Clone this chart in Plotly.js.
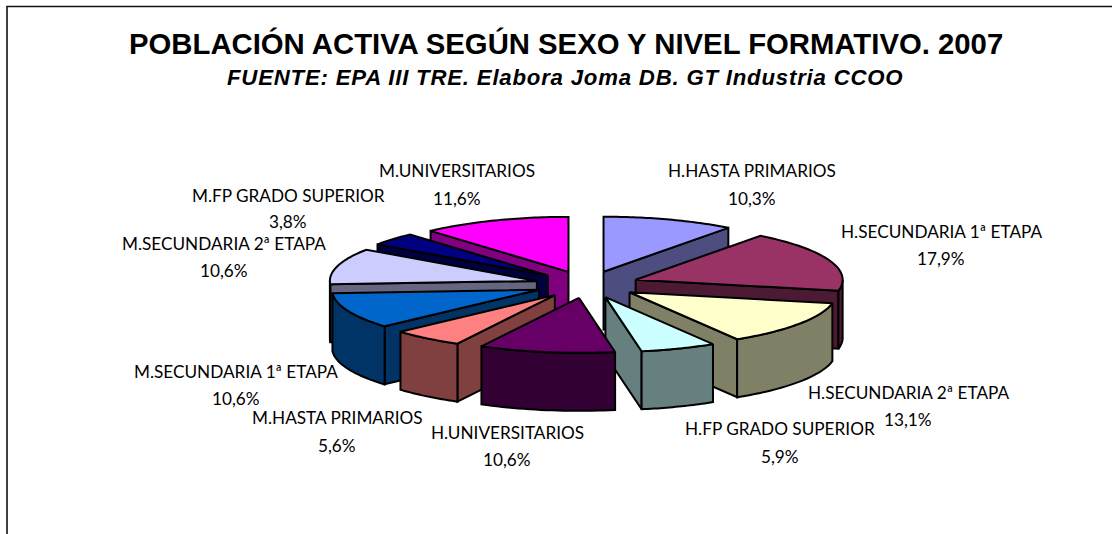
<!DOCTYPE html>
<html><head><meta charset="utf-8">
<script src="https://cdn.plot.ly/plotly-3.0.1.min.js"></script>
<style>html,body{margin:0;padding:0;background:#fff;overflow:hidden}
.annotation[data-index="21"] text{letter-spacing:0.8px}</style>
</head><body><div id="chart" style="width:1112px;height:534px"></div>
<script>
const categories = ["H.HASTA PRIMARIOS","H.SECUNDARIA 1ª ETAPA","H.SECUNDARIA 2ª ETAPA","H.FP GRADO SUPERIOR","H.UNIVERSITARIOS","M.HASTA PRIMARIOS","M.SECUNDARIA 1ª ETAPA","M.SECUNDARIA 2ª ETAPA","M.FP GRADO SUPERIOR","M.UNIVERSITARIOS"];
const shares = [10.3,17.9,13.1,5.9,10.6,5.6,10.6,10.6,3.8,11.6];
const shareLabels = ["10,3%","17,9%","13,1%","5,9%","10,6%","5,6%","10,6%","10,6%","3,8%","11,6%"];
const topColors = ["#9999FF","#993366","#FFFFCC","#CCFFFF","#660066","#FF8080","#0066CC","#CCCCFF","#000080","#FF00FF"];
const sideColors = ["#4D4D80","#4D1A33","#808066","#668080","#330033","#804040","#003366","#666680","#000040","#800080"];
const labelX = [752,941,908,780,507,337,236,224,288,457];
const labelNameY = [170,231,392,428,432,417,371,243,195,170];
const labelValueY = [198,258,419,456,459,445,398,270,221,198];
const paintOrder = [0,9,8,1,7,2,6,3,5,4];

// 3D pie projection
const CX=587, CY=284.5, RX=207, RY=55, DEPTH=58, EXPX=52, EXPY=13.5;
const rad=d=>d*Math.PI/180;
const total=shares.reduce((a,b)=>a+b,0);
let cum=0;
const slices=shares.map(v=>{const a=cum/total*360;cum+=v;return {a0:a,a1:cum/total*360};});

function poly(xs,ys,fill){
  return {type:'scatter',mode:'lines',x:xs,y:ys,fill:'toself',fillcolor:fill,
    line:{color:'#000',width:2,simplify:false},hoverinfo:'skip',showlegend:false};
}
const traces=[];
paintOrder.forEach(i=>{
  const s=slices[i], mid=(s.a0+s.a1)/2;
  const ax=CX+EXPX*Math.sin(rad(mid)), ay=CY-EXPY*Math.cos(rad(mid));
  const P=t=>[ax+RX*Math.sin(rad(t)), ay-RY*Math.cos(rad(t))];
  const cut=t=>{const p=P(t);traces.push(poly([ax,p[0],p[0],ax,ax],[ay,p[1],p[1]+DEPTH,ay+DEPTH,ay],sideColors[i]));};
  if(s.a1<180) cut(s.a1);
  if(s.a0>=180) cut(s.a0);
  const w0=Math.max(s.a0,90), w1=Math.min(s.a1,270);
  if(w1>w0){
    const xs=[],ys=[],bx=[],by=[];
    for(let t=w0;t<=w1+1e-6;t+=(w1-w0)/24){const p=P(t);xs.push(p[0]);ys.push(p[1]);bx.unshift(p[0]);by.unshift(p[1]+DEPTH);}
    traces.push(poly(xs.concat(bx,[xs[0]]),ys.concat(by,[ys[0]]),sideColors[i]));
  }
  const xs=[ax],ys=[ay];
  for(let k=0;k<=40;k++){const p=P(s.a0+(s.a1-s.a0)*k/40);xs.push(p[0]);ys.push(p[1]);}
  xs.push(ax);ys.push(ay);
  traces.push(poly(xs,ys,topColors[i]));
});

const lf={family:'Lato, Carlito, sans-serif',size:17.2,color:'#000'};
const ann=[];
categories.forEach((c,i)=>{
  ann.push({x:labelX[i],y:labelNameY[i],text:c,showarrow:false,font:lf,xanchor:'center',yanchor:'middle'});
  ann.push({x:labelX[i],y:labelValueY[i],text:shareLabels[i],showarrow:false,font:lf,xanchor:'center',yanchor:'middle'});
});
ann.push({x:566,y:43.5,text:'<b>POBLACIÓN ACTIVA SEGÚN SEXO Y NIVEL FORMATIVO. 2007</b>',showarrow:false,xanchor:'center',yanchor:'middle',
  font:{family:'Liberation Sans, Arial, sans-serif',size:29.3,color:'#000'}});
ann.push({x:564.5,y:77.5,text:'<b><i>FUENTE: EPA III TRE. Elabora Joma DB. GT Industria CCOO</i></b>',showarrow:false,xanchor:'center',yanchor:'middle',
  font:{family:'Liberation Sans, Arial, sans-serif',size:22.2,color:'#000'}});

const layout={width:1112,height:534,margin:{l:0,r:0,t:0,b:0},paper_bgcolor:'#fff',plot_bgcolor:'#fff',showlegend:false,
  xaxis:{range:[0,1112],visible:false,fixedrange:true},
  yaxis:{range:[534,0],visible:false,fixedrange:true},
  annotations:ann,
  shapes:[{type:'rect',xref:'x',yref:'y',x0:7,y0:6.5,x1:1130,y1:560,line:{color:'#111',width:1.6},fillcolor:'rgba(0,0,0,0)',layer:'below'}]};
Plotly.newPlot('chart',traces,layout,{displayModeBar:false,staticPlot:true});
</script></body></html>
